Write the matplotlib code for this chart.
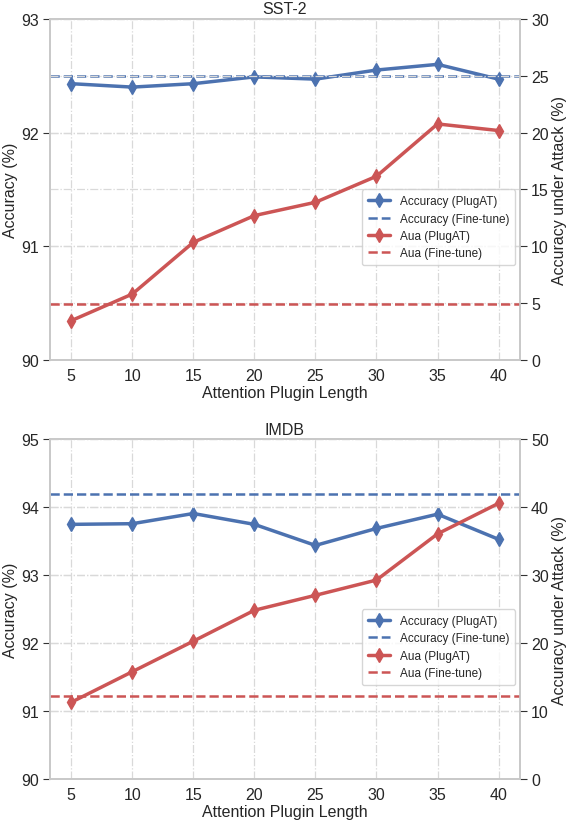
# Accuracy and accuracy under attack vs. attention plugin length (SST-2, IMDB)

import matplotlib
matplotlib.use("Agg")
import matplotlib.pyplot as plt
import seaborn as sns

sns.set_style("ticks")
plt.rcParams['font.family'] = ['Arial', 'Liberation Sans', 'DejaVu Sans']

lengths = [5, 10, 15, 20, 25, 30, 35, 40]

sst2_acc = [92.43, 92.40, 92.43, 92.49, 92.47, 92.55, 92.60, 92.47]
sst2_acc_ft = 92.50
sst2_aua = [3.46, 5.8, 10.35, 12.7, 13.87, 16.16, 20.76, 20.18]
sst2_aua_ft = 4.93

imdb_acc = [93.75, 93.76, 93.91, 93.75, 93.44, 93.69, 93.90, 93.53]
imdb_acc_ft = 94.20
imdb_aua = [11.3, 15.8, 20.3, 24.85, 27.05, 29.3, 36.1, 40.6]
imdb_aua_ft = 12.2

BLUE = '#4C72B0'
RED = '#CC5555'
SPINE = '#c8c8c8'


def draw_panel(ax, title, acc, acc_ft, aua, aua_ft, ylim, ylim2, yticks, yticks2):
    ax2 = ax.twinx()

    ax.grid(True, linestyle='-.', color='#d9d9d9', linewidth=0.9)
    ax2.grid(True, axis='y', linestyle='-.', color='#d9d9d9', linewidth=0.9)
    ax.set_axisbelow(True)

    l1, = ax.plot(lengths, acc, color=BLUE, linewidth=2.5, marker='d',
                  markersize=7, label='Accuracy (PlugAT)')
    l2 = ax.axhline(acc_ft, color=BLUE, linestyle='--', linewidth=1.8,
                    label='Accuracy (Fine-tune)')
    l3, = ax2.plot(lengths, aua, color=RED, linewidth=2.5, marker='d',
                   markersize=7, label='Aua (PlugAT)')
    l4 = ax2.axhline(aua_ft, color=RED, linestyle='--', linewidth=1.8,
                     label='Aua (Fine-tune)')

    ax.set_ylim(ylim)
    ax2.set_ylim(ylim2)
    ax.set_yticks(yticks)
    ax2.set_yticks(yticks2)
    ax.set_xticks(lengths)

    ax.set_title(title, fontsize=11.5, pad=4)
    ax.set_xlabel('Attention Plugin Length', fontsize=11.5, labelpad=1)
    ax.set_ylabel('Accuracy (%)', fontsize=11.5, labelpad=2)
    ax2.set_ylabel('Accuracy under Attack (%)', fontsize=11.5, labelpad=2)

    for a in (ax, ax2):
        for s in a.spines.values():
            s.set_color(SPINE)
            s.set_linewidth(1.2)
        a.tick_params(axis='y', labelsize=11.5, length=5, pad=3,
                      color='#333333')
    ax.tick_params(axis='x', labelsize=11.5, length=0, pad=6)

    ax2.legend(handles=[l1, l2, l3, l4], loc='upper right',
               bbox_to_anchor=(0.99, 0.50), borderaxespad=0,
               fontsize=8.5, frameon=True, handlelength=1.9,
               borderpad=0.5, labelspacing=0.45)
    return ax2


fig = plt.figure(figsize=(5.67, 8.28), dpi=100)
ax_top = fig.add_axes([0.088, 0.564, 0.829, 0.412])
ax_bot = fig.add_axes([0.088, 0.058, 0.829, 0.410])

draw_panel(ax_top, 'SST-2', sst2_acc, sst2_acc_ft, sst2_aua, sst2_aua_ft,
           (90, 93), (0, 30), [90, 91, 92, 93], [0, 5, 10, 15, 20, 25, 30])
draw_panel(ax_bot, 'IMDB', imdb_acc, imdb_acc_ft, imdb_aua, imdb_aua_ft,
           (90, 95), (0, 50), [90, 91, 92, 93, 94, 95], [0, 10, 20, 30, 40, 50])

fig.savefig('out.png', dpi=100)
